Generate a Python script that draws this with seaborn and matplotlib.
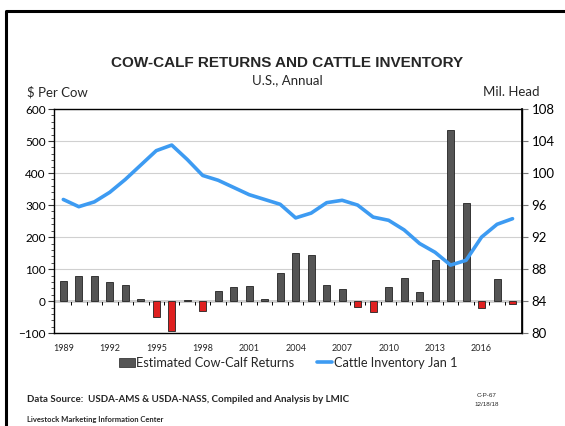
import numpy as np
import pandas as pd
import matplotlib
matplotlib.use('Agg')
import matplotlib.pyplot as plt
from matplotlib.lines import Line2D
from matplotlib.patches import Patch
import seaborn as sns

# ==========================================
# data
# ==========================================
years = list(range(1989, 2019))
returns = [62, 79, 79, 60, 51, 6, -50, -92, 3, -30,
           32, 43, 48, 7, 87, 151, 143, 51, 37, -18,
           -35, 44, 72, 29, 128, 535, 308, -22, 70, -10]
inventory = [96.7, 95.8, 96.4, 97.6, 99.2, 101.0, 102.8, 103.5, 101.7, 99.7,
             99.1, 98.2, 97.3, 96.7, 96.1, 94.4, 95.0, 96.3, 96.6, 96.0,
             94.5, 94.1, 92.9, 91.2, 90.1, 88.5, 89.1, 92.0, 93.6, 94.3]
tick_years = list(range(1989, 2017, 3))

df = pd.DataFrame({'year': years, 'returns': returns, 'inventory': inventory})
df['sign'] = np.where(df['returns'] < 0, 'neg', 'pos')

sns.set_theme(style='white')
plt.rcParams['font.family'] = ['Lato', 'DejaVu Sans']

BAR_GRAY = '#555555'
BAR_RED = '#ff0000'
LINE_BLUE = '#3d9bf2'

fig = plt.figure(figsize=(5.65, 4.26), dpi=100)
ax = fig.add_axes([0.0956, 0.218, 0.828, 0.526])

# bars (returns), coloured by sign
sns.barplot(data=df, x='year', y='returns', hue='sign',
            palette={'pos': BAR_GRAY, 'neg': BAR_RED},
            dodge=False, width=0.45, edgecolor='#222222', linewidth=0.6,
            legend=False, ax=ax, zorder=3)

ax.set_ylim(-100, 600)
ax.set_yticks(range(-100, 601, 100))
ax.set_yticks(range(-100, 601, 20), minor=True)
ax.yaxis.grid(True, color='#d0d0d0', linewidth=0.8)
ax.set_axisbelow(True)
ax.tick_params(axis='y', which='major', direction='out', length=4, width=0.8,
               colors='#333333', labelsize=8.5, labelcolor='black', pad=2, left=True)
ax.tick_params(axis='y', which='minor', direction='out', length=2, width=0.6,
               colors='#333333', left=True)

pos = np.arange(len(years))
ax.set_xticks([years.index(y) for y in tick_years])
ax.set_xticklabels([str(y) for y in tick_years], fontsize=6.5)
ax.tick_params(axis='x', length=0, pad=8)
ax.set_xlim(-0.6, len(years) - 0.4)
ax.set_xlabel('')
ax.set_ylabel('')

for s in ax.spines.values():
    s.set_color('black')
    s.set_linewidth(1.0)

# zero line with small ticks between the bars
zero_frac = (0 - (-100)) / 700
zax = ax.secondary_xaxis(zero_frac)
zax.set_xticks(pos[:-1] + 0.5)
zax.set_xticklabels([])
zax.tick_params(axis='x', direction='out', length=3, width=0.7, colors='black')
zax.spines['bottom'].set_linewidth(1.0)
zax.spines['bottom'].set_color('black')

# line (inventory) on the right axis
ax2 = ax.twinx()
sns.lineplot(x=pos, y=df['inventory'].values, color=LINE_BLUE, linewidth=2.6,
             ax=ax2, zorder=4)
ax2.set_ylim(80, 108)
ax2.set_yticks(range(80, 109, 4))
ax2.tick_params(axis='y', direction='out', length=4, width=0.8, colors='#777777',
                labelsize=9.5, labelcolor='black', pad=3, right=True)
ax2.set_ylabel('')
ax2.grid(False)
for s in ax2.spines.values():
    s.set_visible(False)
ax2.spines['right'].set_visible(True)
ax2.spines['right'].set_color('black')

# titles and axis captions
fig.text(0.508, 0.852, 'COW-CALF RETURNS AND CATTLE INVENTORY', ha='center', va='center',
         fontsize=11, fontweight='bold', family=['Liberation Sans', 'DejaVu Sans'])
fig.text(0.508, 0.812, 'U.S., Annual', ha='center', va='center', fontsize=9.5)
fig.text(0.048, 0.784, '$ Per Cow', ha='left', va='center', fontsize=9.5)
fig.text(0.955, 0.784, 'Mil. Head', ha='right', va='center', fontsize=9.5)

# legend
handles = [Patch(facecolor=BAR_GRAY, edgecolor='#222222', linewidth=0.5),
           Line2D([0], [0], color=LINE_BLUE, linewidth=2.6)]
fig.legend(handles, ['Estimated Cow-Calf Returns', 'Cattle Inventory Jan 1'],
           loc='center', bbox_to_anchor=(0.51, 0.148), ncol=2, frameon=False,
           fontsize=9.2, handlelength=1.2, handletextpad=0.1, columnspacing=1.8)

# footer
fig.text(0.048, 0.062, 'Data Source:  USDA-AMS & USDA-NASS, Compiled and Analysis by LMIC',
         ha='left', va='center', fontsize=7, fontweight='bold')
fig.text(0.048, 0.015, 'Livestock Marketing Information Center',
         ha='left', va='center', fontsize=5.5, fontweight='bold')
fig.text(0.862, 0.072, 'C-P-67', ha='center', va='center', fontsize=4.5,
         family=['Liberation Sans', 'DejaVu Sans'])
fig.text(0.862, 0.050, '12/18/18', ha='center', va='center', fontsize=4.5,
         family=['Liberation Sans', 'DejaVu Sans'])

# outer frame (left and top edges only, as in the reference)
fig.add_artist(Line2D([0.0106, 0.0106, 1.0], [0.0, 0.974, 0.974],
                      transform=fig.transFigure, color='black', linewidth=2.2))

fig.savefig('out.png', dpi=100)
